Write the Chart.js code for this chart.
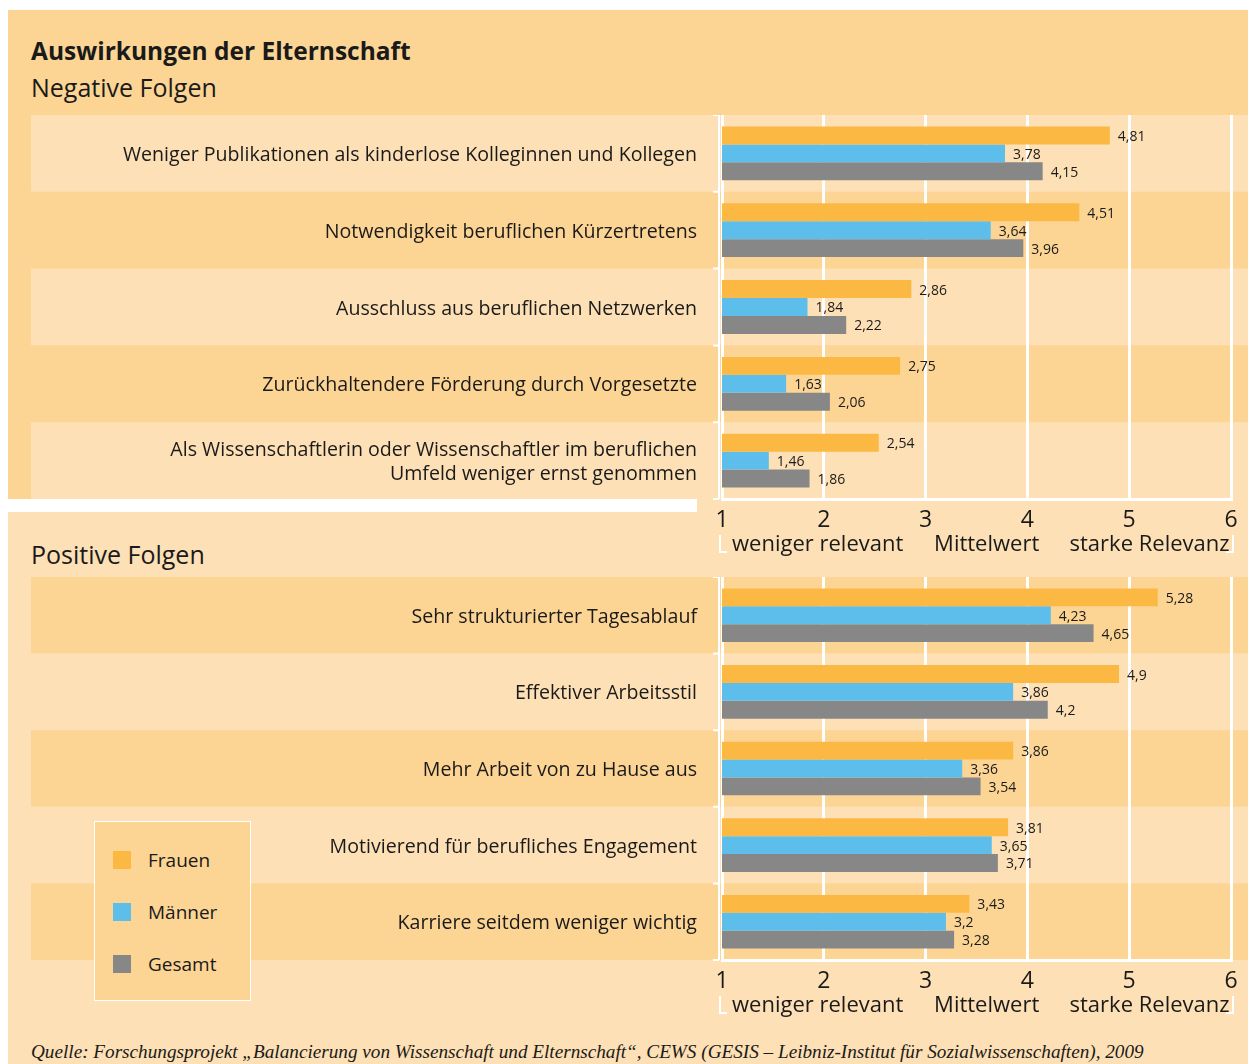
<!DOCTYPE html>
<html>
<head>
<meta charset="utf-8">
<script src="https://cdn.jsdelivr.net/npm/chart.js@4/dist/chart.umd.min.js"></script>
<style>
    body { margin: 0; background: #fff; font-family: "Open Sans", sans-serif; color: #1a1a1a; }
    #page { position: relative; width: 1248px; height: 1064px; overflow: hidden; }
    .abs { position: absolute; }
    .title { left: 31px; font-size: 25px; line-height: 28px; white-space: nowrap; }
    #legend { left: 94px; top: 821px; width: 155px; height: 178px; background: #FCD594; border: 1px solid #fff; }
    .item { position: absolute; left: 18px; height: 20px; font-size: 19px; line-height: 20px; }
    .item span { position: absolute; left: 0; top: 1px; width: 18px; height: 18px; }
    .item b { position: absolute; left: 35px; top: 0; font-weight: normal; white-space: nowrap; }
    #source { left: 31px; top: 1041px; font-family: "Liberation Serif", serif; font-style: italic; font-size: 19.2px; white-space: nowrap; }
</style>
</head>
<body>
<div id="page">
    <div class="abs" style="left:8px;top:10px;width:1240px;height:1054px;background:#FDE0B5"></div>
    <div class="abs" style="left:8px;top:10px;width:1240px;height:489px;background:#FCD594"></div>
    <div class="abs" style="left:8px;top:499px;width:689px;height:13px;background:#fff"></div>

    <div class="abs title" style="top:37px;font-weight:bold;font-size:24.5px">Auswirkungen der Elternschaft</div>
    <div class="abs title" style="top:73px">Negative Folgen</div>
    <div class="abs title" style="top:540px">Positive Folgen</div>

    <canvas id="negChart" class="abs" style="left:31px;top:115px" width="1217" height="444"></canvas>
    <canvas id="posChart" class="abs" style="left:31px;top:577px" width="1217" height="443"></canvas>

    <div id="legend" class="abs"></div>
    <div id="source" class="abs">Quelle: Forschungsprojekt „Balancierung von Wissenschaft und Elternschaft“, CEWS (GESIS – Leibniz-Institut für Sozialwissenschaften), 2009</div>
</div>

<script>
/* data */
const seriesNames = ["Frauen", "Männer", "Gesamt"];
const seriesColors = ["#FBB843", "#5EBEEB", "#878787"];

const negCategories = [
    "Weniger Publikationen als kinderlose Kolleginnen und Kollegen",
    "Notwendigkeit beruflichen Kürzertretens",
    "Ausschluss aus beruflichen Netzwerken",
    "Zurückhaltendere Förderung durch Vorgesetzte",
    ["Als Wissenschaftlerin oder Wissenschaftler im beruflichen", "Umfeld weniger ernst genommen"]
];
const negFrauen = [4.81, 4.51, 2.86, 2.75, 2.54];
const negMaenner = [3.78, 3.64, 1.84, 1.63, 1.46];
const negGesamt = [4.15, 3.96, 2.22, 2.06, 1.86];

const posCategories = [
    "Sehr strukturierter Tagesablauf",
    "Effektiver Arbeitsstil",
    "Mehr Arbeit von zu Hause aus",
    "Motivierend für berufliches Engagement",
    "Karriere seitdem weniger wichtig"
];
const posFrauen = [5.28, 4.9, 3.86, 3.81, 3.43];
const posMaenner = [4.23, 3.86, 3.36, 3.65, 3.2];
const posGesamt = [4.65, 4.2, 3.54, 3.71, 3.28];

const axisMin = 1;
const axisMax = 6;
const rangeLabels = ["weniger relevant", "Mittelwert", "starke Relevanz"];

Chart.defaults.font.family = "'Open Sans', sans-serif";
Chart.defaults.color = "#1a1a1a";

const LIGHT = "#FDE0B5";
const DARK = "#FCD594";

/* row bands + white bracket left of the plot */
const bandPlugin = {
    id: "bands",
    beforeDraw(chart, args, opts) {
        const { ctx, chartArea } = chart;
        const y = chart.scales.y;
        const n = chart.data.labels.length;
        const h = chartArea.height / n;
        ctx.save();
        for (let i = 0; i < n; i++) {
            const c = y.getPixelForValue(i);
            ctx.fillStyle = opts.colors[i % 2];
            ctx.fillRect(0, c - h / 2, chart.width, h);
        }
        ctx.strokeStyle = "#fff";
        ctx.lineWidth = 2;
        const bx = chartArea.left - 3;
        ctx.beginPath();
        ctx.moveTo(bx, chartArea.top);
        ctx.lineTo(bx, chartArea.bottom);
        for (let i = 0; i <= n; i++) {
            const yy = chartArea.top + i * h;
            ctx.moveTo(bx - 6, yy);
            ctx.lineTo(bx, yy);
        }
        ctx.stroke();
        ctx.restore();
    }
};

/* value labels with decimal comma */
const valuePlugin = {
    id: "values",
    afterDatasetsDraw(chart) {
        const ctx = chart.ctx;
        ctx.save();
        ctx.font = "14px 'Open Sans', sans-serif";
        ctx.fillStyle = "#1a1a1a";
        ctx.textAlign = "left";
        ctx.textBaseline = "middle";
        chart.data.datasets.forEach((ds, di) => {
            chart.getDatasetMeta(di).data.forEach((bar, i) => {
                ctx.fillText(String(ds.data[i]).replace(".", ","), bar.x + 8, bar.y + 1.5);
            });
        });
        ctx.restore();
    }
};

/* text under the axis: weniger relevant / Mittelwert / starke Relevanz */
const rangePlugin = {
    id: "range",
    afterDraw(chart) {
        const { ctx, chartArea } = chart;
        const x = chart.scales.x;
        const centers = [1.94, 3.6, 5.2];
        const b = chartArea.bottom;
        ctx.save();
        ctx.font = "22px 'Open Sans', sans-serif";
        ctx.fillStyle = "#1a1a1a";
        ctx.textAlign = "center";
        ctx.textBaseline = "middle";
        rangeLabels.forEach((t, i) => ctx.fillText(t, x.getPixelForValue(centers[i]), b + 46));
        ctx.strokeStyle = "#fff";
        ctx.lineWidth = 2;
        ctx.beginPath();
        ctx.moveTo(chartArea.left - 2, b + 36);
        ctx.lineTo(chartArea.left - 2, b + 53);
        ctx.lineTo(chartArea.left + 5, b + 53);
        ctx.moveTo(chartArea.right + 2, b + 36);
        ctx.lineTo(chartArea.right + 2, b + 53);
        ctx.lineTo(chartArea.right - 5, b + 53);
        ctx.stroke();
        ctx.restore();
    }
};

function makeChart(id, labels, f, m, g, bandColors) {
    const values = [f, m, g];
    return new Chart(document.getElementById(id), {
        type: "bar",
        data: {
            labels: labels,
            datasets: seriesNames.map((name, i) => ({
                label: name,
                data: values[i],
                backgroundColor: seriesColors[i],
                barPercentage: 1,
                categoryPercentage: 0.7
            }))
        },
        options: {
            indexAxis: "y",
            responsive: false,
            animation: false,
            layout: { padding: { top: 0, right: 17, bottom: 0, left: 0 } },
            plugins: {
                legend: { display: false },
                tooltip: { enabled: false },
                bands: { colors: bandColors }
            },
            scales: {
                x: {
                    min: axisMin,
                    max: axisMax,
                    grid: { color: "#fff", lineWidth: 3, drawTicks: false },
                    border: { display: true, color: "#fff", width: 3 },
                    ticks: { stepSize: 1, padding: 8, color: "#1a1a1a", font: { size: 23 } },
                    afterFit: (s) => { s.height = 60; s.paddingLeft = 0; s.paddingRight = 0; }
                },
                y: {
                    grid: { display: false, drawTicks: false },
                    border: { display: false },
                    ticks: { padding: 25, labelOffset: 2, color: "#1a1a1a", font: { size: 19.6, lineHeight: 1.22 } },
                    afterFit: (s) => { s.width = 691; s.paddingTop = 0; s.paddingBottom = 0; }
                }
            }
        },
        plugins: [bandPlugin, valuePlugin, rangePlugin]
    });
}

makeChart("negChart", negCategories, negFrauen, negMaenner, negGesamt, [LIGHT, DARK]);
makeChart("posChart", posCategories, posFrauen, posMaenner, posGesamt, [DARK, LIGHT]);

/* legend box */
const legend = document.getElementById("legend");
seriesNames.forEach((name, i) => {
    const item = document.createElement("div");
    item.className = "item";
    item.style.top = (28 + i * 52) + "px";
    item.innerHTML = '<span style="background:' + seriesColors[i] + '"></span><b>' + name + "</b>";
    legend.appendChild(item);
});
</script>
</body>
</html>
